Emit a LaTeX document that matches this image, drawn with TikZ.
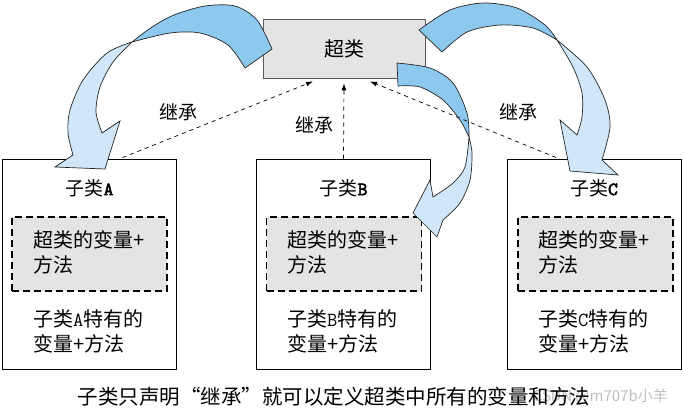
\documentclass[tikz,border=0pt]{standalone}
\usepackage{fontspec}
\setmainfont{Noto Sans CJK SC}
\newfontfamily\tbold[FakeBold=2.5]{lmmono10-regular.otf}
\usetikzlibrary{arrows.meta,calc}
\definecolor{arrdark}{HTML}{8DC8EE}
\definecolor{arrlight}{HTML}{CFE7F8}
\definecolor{boxgray}{HTML}{E4E4E4}
\begin{document}
\begin{tikzpicture}[x=1pt,y=-1pt,
  superbox/.style={draw=black!65, line width=0.8pt, fill=boxgray, minimum width=162pt, minimum height=59pt, inner sep=0pt, font=\fontsize{20}{24}\selectfont},
  subbox/.style={draw=black, line width=0.9pt, fill=white, minimum width=174pt, minimum height=210pt, inner sep=0pt},
  innerbox/.style={draw=black, line width=1.6pt, dash pattern=on 7pt off 4pt, fill=boxgray, minimum width=155pt, minimum height=74pt, inner sep=0pt},
  bodytext/.style={align=left, anchor=west, inner sep=0pt, font=\fontsize{20}{25}\selectfont},
  titletext/.style={inner sep=0pt, font=\fontsize{19}{23}\selectfont},
  lbl/.style={inner sep=0pt, font=\fontsize{19}{23}\selectfont},
  inherit/.style={dash pattern=on 4pt off 4pt, line width=0.7pt, -{Latex[length=7pt,width=5pt]}},
  darkpart/.style={fill=arrdark, draw=black!85, line width=0.7pt, line join=round},
  lightpart/.style={fill=arrlight, draw=black!85, line width=0.7pt, line join=miter}
]
\useasboundingbox (0,0) rectangle (683,412);

% boxes
\node[superbox] (super) at (344,48.5) {超类};
\node[subbox] (A) at (89.5,264) {};
\node[subbox] (B) at (343.5,264) {};
\node[subbox] (C) at (594,264) {};
\node[innerbox] (Ain) at (89.5,254) {};
\node[innerbox] (Bin) at (344,254) {};
\node[innerbox] (Cin) at (595.5,254) {};

\node[titletext] (At) at (89.5,188) {子类{\tbold A}};
\node[titletext] (Bt) at (343.5,188) {子类{\tbold B}};
\node[titletext] (Ct) at (594,188) {子类{\tbold C}};

\node[bodytext] (Ab1) at (33,252.5) {超类的变量+\\方法};
\node[bodytext] (Bb1) at (287,252.5) {超类的变量+\\方法};
\node[bodytext] (Cb1) at (538,252.5) {超类的变量+\\方法};

\node[bodytext] (Ab2) at (33,331.5) {子类{\ttfamily A}特有的\\变量+方法};
\node[bodytext] (Bb2) at (287,331.5) {子类{\ttfamily B}特有的\\变量+方法};
\node[bodytext] (Cb2) at (538,331.5) {子类{\ttfamily C}特有的\\变量+方法};

% curved block arrows
% left
\path[darkpart] (272,49) -- plot[smooth] coordinates {(272,49) (257,20) (235,6) (205,6) (174,15) (152,27) (132,42)}
  -- plot[smooth] coordinates {(132,42) (170,33) (200,33) (228,45) (245,68)} -- cycle;
\path[lightpart] (132,42) -- plot[smooth] coordinates {(132,42) (107,53) (83,80) (70,110) (68,133) (73,155)}
  -- (55,167) -- (105,169) -- (120,121) -- (102,133)
  -- plot[smooth] coordinates {(102,133) (96,112) (100,87) (113,62) (132,42)} -- cycle;
% right
\path[darkpart] (419,30) -- plot[smooth] coordinates {(419,30) (450,10) (483,3) (517,8) (545,25) (557,40)}
  -- plot[smooth] coordinates {(557,40) (533,28) (500,25) (467,32) (442,52)} -- cycle;
\path[lightpart] (557,40) -- plot[smooth] coordinates {(557,40) (587,67) (605,100) (610,127) (602,160)}
  -- (618,175) -- (570,171) -- (560,120) -- (577,135)
  -- plot[smooth] coordinates {(577,135) (582,117) (582,93) (573,67) (557,40)} -- cycle;
% middle
\path[darkpart] (397,63) -- plot[smooth] coordinates {(397,63) (430,68) (453,83) (467,113) (469,137)}
  -- plot[smooth] coordinates {(469,137) (460,120) (443,100) (420,87) (398,86)} -- cycle;
\path[lightpart] (469,137) -- plot[smooth] coordinates {(469,137) (465,167) (453,183) (433,197)}
  -- (430,180) -- (413,213) -- (437,237) -- (443,220)
  -- plot[smooth] coordinates {(443,220) (460,203) (470,180) (472,153) (469,137)} -- cycle;

% inheritance connectors
\draw[inherit] ($(A.north)+(33,-1)$) -- ($(super.south)+(-31,3)$);
\draw[inherit] (B.north) -- ($(super.south)+(0,5)$);
\draw[inherit] ($(C.north)+(-38,-1)$) -- ($(super.south)+(26,3)$);

\node[lbl] (l1) at (178,112) {继承};
\node[lbl] (l2) at (314,125) {继承};
\node[lbl] (l3) at (518,112) {继承};

% caption
\node[inner sep=0pt, anchor=east, text=black!25, font=\fontsize{15}{18}\selectfont] (wm) at (668,396) {CSDN @m707b小羊};
\node[inner sep=0pt, font=\fontsize{20.5}{24}\selectfont] (cap) at (334,397) {子类只声明“继承”就可以定义超类中所有的变量和方法};
\end{tikzpicture}
\end{document}
